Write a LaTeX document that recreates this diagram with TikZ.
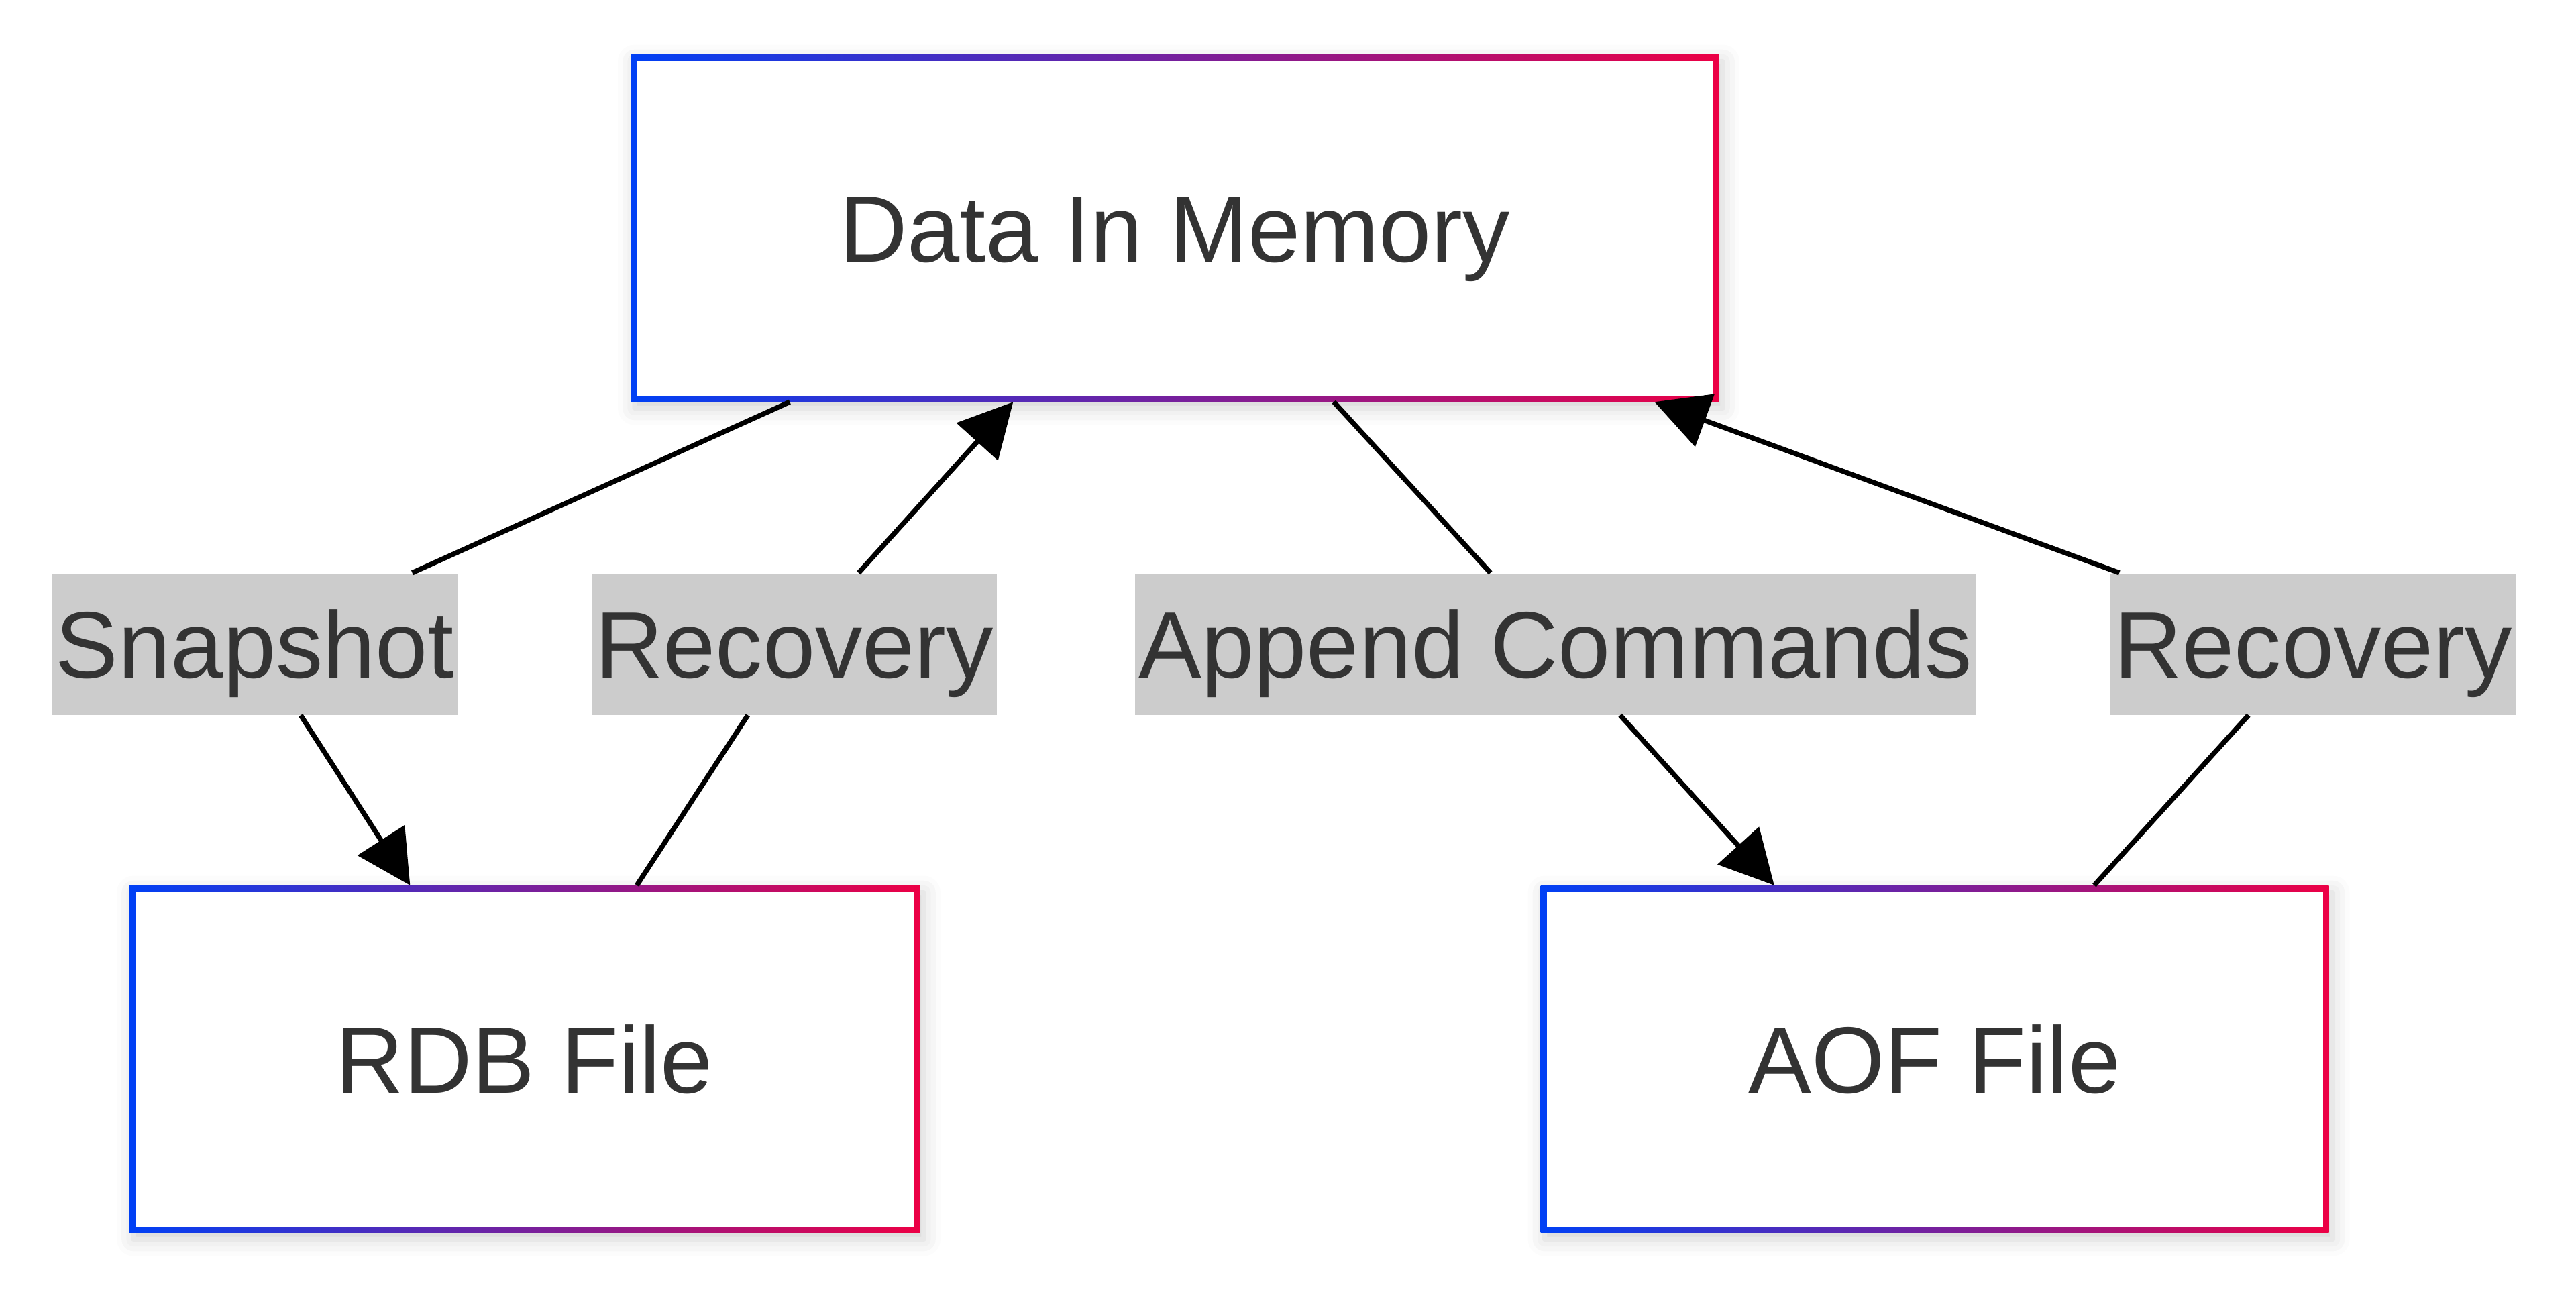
\documentclass[tikz,border=0pt]{standalone}
\usepackage{fontspec}
\setmainfont{Liberation Sans}
\usetikzlibrary{arrows.meta, shadows.blur}
\definecolor{edgeblue}{HTML}{0040F5}
\definecolor{edgered}{HTML}{EC0045}
\definecolor{labelbg}{HTML}{CCCCCC}
\definecolor{textgray}{HTML}{333333}

\begin{document}
\begin{tikzpicture}[
  box/.style={minimum height=5.17cm, inner sep=0pt, text=textgray,
              text height=1.0cm, text depth=0pt,
              font=\fontsize{40pt}{48pt}\selectfont,
              left color=edgeblue, right color=edgered,
              blur shadow={shadow xshift=0.06cm, shadow yshift=-0.1cm,
                           shadow blur radius=0.25cm, shadow opacity=18},
              path picture={\fill[white]
                ([shift={(0.09cm,0.09cm)}]path picture bounding box.south west)
                rectangle
                ([shift={(-0.09cm,-0.09cm)}]path picture bounding box.north east);}},
  lbl/.style={fill=labelbg, text=textgray, minimum height=2.11cm,
              text height=1.0cm, text depth=0pt,
              inner xsep=1.5pt, inner ysep=0pt,
              font=\fontsize{40pt}{48pt}\selectfont},
  edge/.style={line width=2.1pt, black},
  tip/.style={-{Triangle[length=0.8cm, width=0.82cm]}},
]

\useasboundingbox (0, 0) rectangle (38.4, -19.25);

\node[box, minimum width=16.22cm] (mem) at (17.51, -3.40) {Data In Memory};
\node[box, minimum width=11.78cm] (rdb) at (7.82, -15.79) {RDB File};
\node[box, minimum width=11.75cm] (aof) at (28.84, -15.79) {AOF File};

\node[lbl] (snap) at (3.80, -9.60) {Snapshot};
\node[lbl] (recA) at (11.84, -9.60) {Recovery};
\node[lbl] (append) at (23.19, -9.60) {Append Commands};
\node[lbl] (recB) at (34.48, -9.60) {Recovery};

% memory <-> rdb
\draw[edge] ([xshift=2.38cm]mem.south west) -- (snap);
\draw[edge, tip] (snap) -- ([xshift=4.19cm]rdb.north west);
\draw[edge] ([xshift=7.57cm]rdb.north west) -- (recA);
\draw[edge, tip] (recA) -- ([xshift=5.71cm]mem.south west);

% memory <-> aof
\draw[edge] ([xshift=10.49cm]mem.south west) -- (append);
\draw[edge, tip] (append) -- ([xshift=3.49cm]aof.north west);
\draw[edge] ([xshift=8.26cm]aof.north west) -- (recB);
\draw[edge, tip] (recB) -- ([xshift=15.27cm]mem.south west);

\end{tikzpicture}
\end{document}
